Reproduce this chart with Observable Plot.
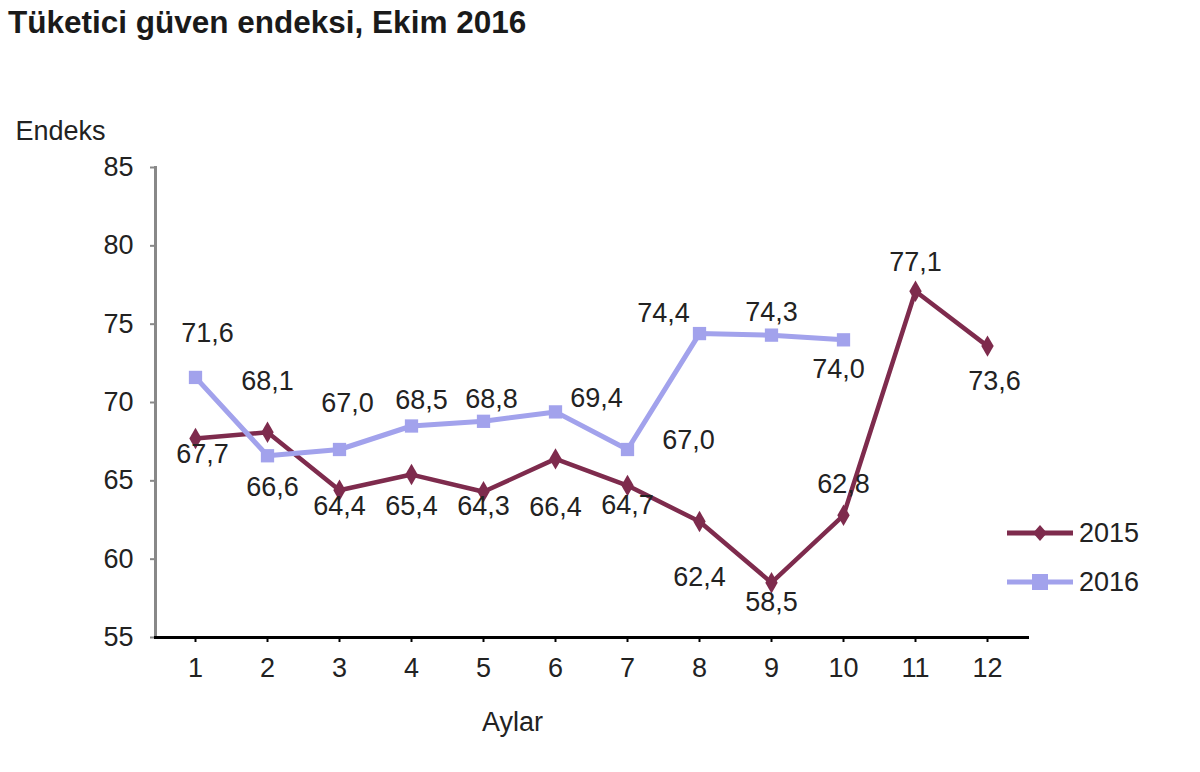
<!DOCTYPE html>
<html>
<head>
<meta charset="utf-8">
<script src="https://cdn.jsdelivr.net/npm/d3@7"></script>
<script src="https://cdn.jsdelivr.net/npm/@observablehq/plot@0.6"></script>
<style>
  html, body { margin: 0; padding: 0; background: #fff; }
  body { width: 1200px; height: 772px; position: relative; overflow: hidden; font-family: "Liberation Sans", Arial, sans-serif; }
  #title { position: absolute; left: 8px; top: 5px; font-size: 31.5px; line-height: 34px; font-weight: bold; color: #1a1a1a; white-space: nowrap; }
  #chart { position: absolute; left: 0; top: 60px; }
  #legend { position: absolute; left: 1005px; top: 515px; font-size: 27px; color: #222; }
  .row { display: flex; align-items: center; height: 36px; margin-bottom: 13px; }
  .row svg { margin-right: 4px; }
</style>
</head>
<body>
<div id="title">Tüketici güven endeksi, Ekim 2016</div>
<div id="chart"></div>
<div id="legend"></div>
<script>
// ---- data ----
const months = [1, 2, 3, 4, 5, 6, 7, 8, 9, 10, 11, 12];
const values2015 = [67.7, 68.1, 64.4, 65.4, 64.3, 66.4, 64.7, 62.4, 58.5, 62.8, 77.1, 73.6];
const values2016 = [71.6, 66.6, 67.0, 68.5, 68.8, 69.4, 67.0, 74.4, 74.3, 74.0];
const seriesNames = ["2015", "2016"];
const yTicks = [55, 60, 65, 70, 75, 80, 85];

// ---- label placement (layout) ----
const labelDx2015 = [7, 0, 0, 0, 0, 0, 0, 0, 0, 0, 0, 7];
const labelDy2015 = [16, -51, 16, 32, 15, 48, 20, 56, 20, -31, -29, 35];
const labelDx2016 = [12, 5, 8, 10, 8, 41, 61, -36, 0, -5];
const labelDy2016 = [-44, 32, -46, -26, -22, -14, -9, -20, -23, 30];

const colors = { "2015": "#7e2b4d", "2016": "#a2a2ec" };
const fmt = v => v.toFixed(1).replace(".", ",");

const d2015 = values2015.map((v, i) => ({ m: months[i], v }));
const d2016 = values2016.map((v, i) => ({ m: months[i], v }));

const labelMarks = (data, dxs, dys) => data.map((d, i) =>
  Plot.text([d], { x: "m", y: "v", text: d => fmt(d.v), dx: dxs[i], dy: dys[i], fontSize: 27, fill: "#222" })
);

const chart = Plot.plot({
  width: 1200,
  height: 712,
  marginTop: 107,
  marginBottom: 135,
  marginLeft: 155,
  marginRight: 173,
  style: { fontFamily: "'Liberation Sans', Arial, sans-serif", fontSize: "27px", color: "#222", background: "transparent", overflow: "visible" },
  x: { type: "point", domain: months, padding: 0.5 },
  y: { domain: [55, 85] },
  marks: [
    Plot.axisY({ ticks: yTicks, tickSize: 5, tickPadding: 17, label: null, stroke: "#888", strokeWidth: 2, fill: "#222", fontSize: 27 }),
    Plot.axisX({ ticks: months, tickSize: 5, tickPadding: 15, label: null, stroke: "#000", strokeWidth: 2, fill: "#222", fontSize: 27 }),
    Plot.frame({ anchor: "left", stroke: "#888", strokeWidth: 3 }),
    Plot.frame({ anchor: "bottom", stroke: "#000", strokeWidth: 3 }),
    Plot.text(["Endeks"], { frameAnchor: "top-left", dx: -140, dy: -47, textAnchor: "start", fontSize: 27, fill: "#222" }),
    Plot.text(["Aylar"], { frameAnchor: "bottom-left", dx: 357, dy: 93, textAnchor: "middle", fontSize: 27, fill: "#222" }),
    Plot.line(d2015, { x: "m", y: "v", stroke: colors["2015"], strokeWidth: 4.5 }),
    Plot.dot(d2015, { x: "m", y: "v", symbol: "diamond", r: 6.5, fill: colors["2015"] }),
    Plot.line(d2016, { x: "m", y: "v", stroke: colors["2016"], strokeWidth: 5 }),
    Plot.dot(d2016, { x: "m", y: "v", symbol: "square", r: 7.5, fill: colors["2016"] }),
    ...labelMarks(d2015, labelDx2015, labelDy2015),
    ...labelMarks(d2016, labelDx2016, labelDy2016)
  ]
});
document.getElementById("chart").appendChild(chart);

// legend
const legend = document.getElementById("legend");
seriesNames.forEach(name => {
  const row = document.createElement("div");
  row.className = "row";
  const isDiamond = name === "2015";
  const c = colors[name];
  const marker = isDiamond
    ? `<polygon points="35,5 42,13 35,21 28,13" fill="${c}"/>`
    : `<rect x="27" y="5" width="16" height="16" fill="${c}"/>`;
  row.innerHTML = `<svg width="70" height="26"><line x1="2" y1="13" x2="68" y2="13" stroke="${c}" stroke-width="5"/>${marker}</svg><span>${name}</span>`;
  legend.appendChild(row);
});
</script>
</body>
</html>
